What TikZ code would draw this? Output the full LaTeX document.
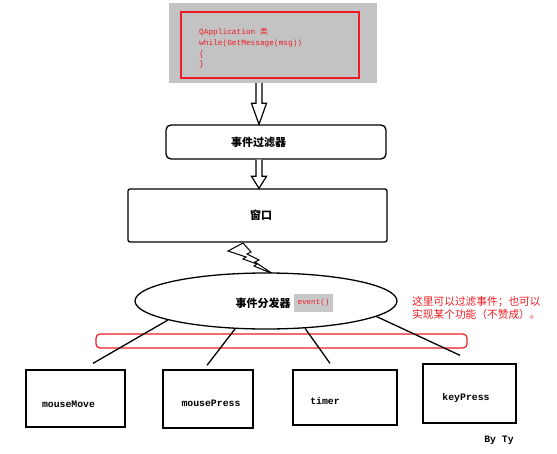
\documentclass[tikz,border=0pt]{standalone}
\usepackage{fontspec}
\usepackage{tikz}
\usetikzlibrary{positioning,calc,shapes.geometric}
\newfontfamily\cjk{Noto Sans CJK SC}
\newfontfamily\mono{Liberation Mono}
\definecolor{paintred}{RGB}{237,28,36}
\definecolor{appgray}{RGB}{195,195,195}
\definecolor{evgray}{RGB}{200,200,200}
\tikzset{
  appbox/.style  ={rectangle, fill=appgray, draw=none, minimum width=208pt,
                   minimum height=80pt},
  redframe/.style={rectangle, draw=paintred, line width=1.2pt, minimum width=178pt,
                   minimum height=66pt},
  codelbl/.style ={font=\mono\fontsize{7.8pt}{10.7pt}\selectfont, text=paintred,
                   align=left, inner sep=0pt, anchor=north west},
  filterbox/.style={rectangle, rounded corners=5pt, draw=black, line width=1.3pt,
                   fill=white, minimum width=220pt, minimum height=34pt},
  winbox/.style  ={rectangle, rounded corners=2pt, draw=black, line width=1.3pt,
                   fill=white, minimum width=259pt, minimum height=53pt},
  dispatch/.style={ellipse, draw=black, line width=1.3pt, fill=white,
                   minimum width=262pt, minimum height=56pt},
  cnlbl/.style   ={font=\cjk\bfseries\fontsize{11pt}{13pt}\selectfont, inner sep=0pt},
  evcall/.style  ={rectangle, fill=evgray, text=paintred, minimum width=39pt,
                   minimum height=18pt, inner sep=0pt,
                   font=\mono\fontsize{7.6pt}{9pt}\selectfont},
  evbox/.style   ={rectangle, draw=black, line width=1.3pt, fill=white},
  evlbl/.style   ={font=\mono\bfseries\fontsize{9.8pt}{11pt}\selectfont, inner sep=0pt},
  band/.style    ={rectangle, rounded corners=4pt, draw=paintred, line width=1.2pt},
  link/.style    ={draw=black, line width=1.3pt},
  hollow/.style  ={draw=black, line width=1.2pt, fill=white, line join=miter},
  note/.style    ={font=\cjk\fontsize{10.7pt}{12.5pt}\selectfont, text=paintred,
                   align=left, inner sep=0pt, anchor=north west}
}
% hollow block arrow: start anchor, tip coordinate, head length
\newcommand\hollowarrow[3]{%
  \draw[hollow] ($(#1 -| #2)+(-3,0)$) -- ($(#2)+(-3,-#3)$) -- ($(#2)+(-7.5,-#3)$)
    -- (#2) -- ($(#2)+(7.5,-#3)$) -- ($(#2)+(3,-#3)$) -- ($(#1 -| #2)+(3,0)$);}

\begin{document}
\begin{tikzpicture}[x=1pt, y=-1pt]
\useasboundingbox (0,0) rectangle (557,454);

% QApplication message loop
\node[appbox] (app) at (273,43) {};
\node[redframe] (appframe) at (270,45) {};
\node[codelbl] (appcode) at (199,28)
  {QApplication {\cjk 类}\\while(GetMessage(msg))\\\{\\\}};

% filter and window
\node[filterbox] (filter) at (276,142) {};
\node[cnlbl] (filtertxt) at ([xshift=-17.5pt]filter.center) {事件过滤器};
\node[winbox] (window) at (257.5,215.5) {};
\node[cnlbl] (windowtxt) at ([xshift=3.5pt]window.center) {窗口};

\coordinate (tip1) at ([xshift=-17pt]filter.north);
\coordinate (tip2) at ([xshift=1.5pt]window.north);
\hollowarrow{app.south}{tip1}{21}
\hollowarrow{filter.south}{tip2}{12}

% lightning
\draw[hollow, line width=1pt] (228,251) -- (243,243) -- (251,252) -- (247,254)
  -- (259,260) -- (255,262) -- (273,274) -- (254,266) -- (257,264) -- (243,259)
  -- (246,257) -- cycle;

% dispatcher
\node[dispatch] (disp) at (266,301) {};
\node[cnlbl] (disptxt) at (263,303) {事件分发器};
\node[evcall] (evfn) at (313.5,303) {event()};

\node[note] (remark) at (412,296.5)
  {这里可以过滤事件；也可以\\实现某个功能（不赞成）。};

% event handlers
\node[evbox, minimum width=99pt, minimum height=57pt] (mm) at (75.5,398.5) {};
\node[evbox, minimum width=90pt, minimum height=58pt] (mp) at (208,399) {};
\node[evbox, minimum width=104pt, minimum height=55pt] (tm) at (345,397.5) {};
\node[evbox, minimum width=93pt, minimum height=59pt] (kp) at (469.5,393.5) {};
\node[evlbl] (mmtxt) at ([xshift=-7pt, yshift=-5.5pt]mm.center) {mouseMove};
\node[evlbl] (mptxt) at ([xshift=3pt, yshift=-4pt]mp.center) {mousePress};
\node[evlbl] (tmtxt) at ([xshift=-20pt, yshift=-3.5pt]tm.center) {timer};
\node[evlbl] (kptxt) at ([xshift=-3.5pt, yshift=-4.5pt]kp.center) {keyPress};

\node[band, minimum width=371pt, minimum height=14pt] (filterband) at (281.5,341) {};

\draw[link] (disp.191) -- ($(mm.north)+(17.5,-6)$);
\draw[link] (disp.222) -- ($(mp.north)+(-1,-4)$);
\draw[link] (disp.325) -- ($(tm.north)+(-15,-6)$);
\draw[link] (disp.352.7) -- ($(kp.north)+(-9.5,-8)$);

\node[evlbl] (sign) at (499,440) {By Ty};
\end{tikzpicture}
\end{document}
